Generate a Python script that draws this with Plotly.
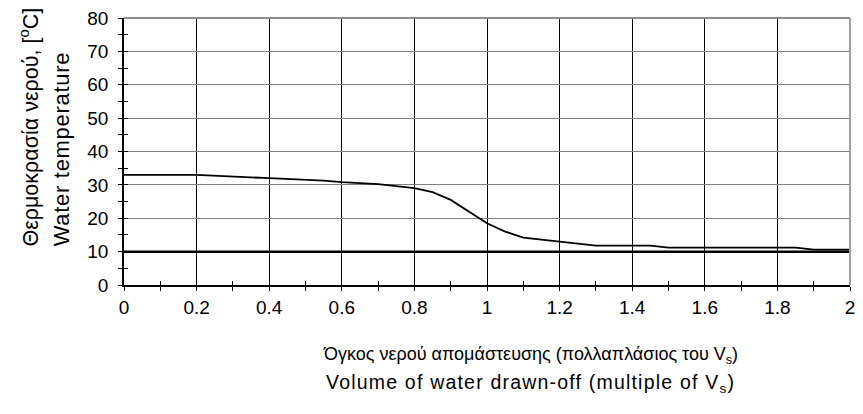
import plotly.graph_objects as go

# Outflow temperature profile during draw-off
volume = [0, 0.2, 0.4, 0.55, 0.6, 0.7, 0.8, 0.85, 0.9, 0.95, 1.0, 1.05, 1.1,
          1.2, 1.3, 1.45, 1.5, 1.85, 1.9, 2.0]
temperature = [33, 33, 32, 31.3, 30.8, 30.2, 29, 27.8, 25.5, 22, 18.5, 16, 14.2,
               13, 11.8, 11.8, 11.2, 11.2, 10.6, 10.6]

# Cold mains water reference level
cold_x = [0, 2]
cold_temp = [10, 10]

x_ticks = [0, 0.2, 0.4, 0.6, 0.8, 1, 1.2, 1.4, 1.6, 1.8, 2]
x_tick_text = ["0", "0.2", "0.4", "0.6", "0.8", "1", "1.2", "1.4", "1.6", "1.8", "2"]
y_ticks = [0, 10, 20, 30, 40, 50, 60, 70, 80]

FONT = "Liberation Sans, Arial, sans-serif"

fig = go.Figure()
fig.add_trace(go.Scatter(x=cold_x, y=cold_temp, mode="lines",
                         line=dict(color="black", width=2.5), hoverinfo="skip"))
fig.add_trace(go.Scatter(x=volume, y=temperature, mode="lines",
                         line=dict(color="black", width=1.8)))

fig.update_layout(
    width=863, height=414,
    margin=dict(l=124, r=8, t=15, b=129),
    paper_bgcolor="white", plot_bgcolor="white",
    showlegend=False,
    font=dict(family=FONT, size=19, color="black"),
    xaxis=dict(
        range=[0, 2], tickvals=x_ticks, ticktext=x_tick_text,
        showgrid=True, gridcolor="black", gridwidth=1,
        showline=True, linecolor="black", linewidth=1.5,
        ticks="outside", ticklen=4, tickcolor="black",
        minor=dict(dtick=0.1, ticks="outside", ticklen=4, tickcolor="black", showgrid=False),
        zeroline=False, tickfont=dict(size=19),
    ),
    yaxis=dict(
        range=[0, 80], tickvals=y_ticks,
        showgrid=True, gridcolor="#7f7f7f", gridwidth=1,
        showline=True, linecolor="black", linewidth=1.5,
        ticks="outside", ticklen=4, tickcolor="black",
        minor=dict(dtick=5, ticks="outside", ticklen=4, tickcolor="black", showgrid=False),
        zeroline=False, tickfont=dict(size=19), ticklabelstandoff=6,
    ),
    xaxis2=dict(range=[0, 2], overlaying="x", anchor="y", side="bottom",
                showticklabels=False, showgrid=False, zeroline=False,
                ticks="inside", ticklen=4, tickcolor="black", dtick=0.1, tick0=0),
    yaxis2=dict(range=[0, 80], overlaying="y", anchor="x", side="left",
                showticklabels=False, showgrid=False, zeroline=False,
                ticks="inside", ticklen=4, tickcolor="black", dtick=5, tick0=0),
)

# invisible trace to bind the overlay axes carrying the inner tick marks
fig.add_trace(go.Scatter(x=[None], y=[None], xaxis="x2", yaxis="y2", hoverinfo="skip"))

# top and right frame of the plot area
fig.add_shape(type="line", xref="paper", yref="paper", x0=0, x1=1, y0=1, y1=1,
              line=dict(color="#8c8c8c", width=2), layer="above")
fig.add_shape(type="line", xref="paper", yref="paper", x0=1, x1=1, y0=0, y1=1,
              line=dict(color="#a0a0a0", width=2), layer="above")

# axis titles (Greek / English)
fig.add_annotation(text="Όγκος νερού απομάστευσης (πολλαπλάσιος του V<sub>s</sub>)",
                   xref="paper", yref="paper", x=(533 - 124) / 731, y=-(356 - 285) / 270,
                   showarrow=False, font=dict(size=18), xanchor="center", yanchor="middle")
fig.add_annotation(text="<span style='letter-spacing:1.2px'>Volume of water drawn-off "
                        "(multiple of V<sub>s</sub>)</span>",
                   xref="paper", yref="paper", x=(533 - 124) / 731, y=-(385 - 285) / 270,
                   showarrow=False, font=dict(size=19.5), xanchor="center", yanchor="middle")
fig.add_annotation(text="Θερμοκρασία νερού, [<sup>o</sup>C]",
                   xref="paper", yref="paper", x=-(124 - 28) / 731, y=(285 - 248) / 270,
                   showarrow=False, textangle=-90, font=dict(size=21.5),
                   xanchor="center", yanchor="bottom")
fig.add_annotation(text="<span style='letter-spacing:0.7px'>Water temperature</span>",
                   xref="paper", yref="paper", x=-(124 - 61) / 731, y=(285 - 248) / 270,
                   showarrow=False, textangle=-90, font=dict(size=22),
                   xanchor="center", yanchor="bottom")

fig.write_html("out.html")
